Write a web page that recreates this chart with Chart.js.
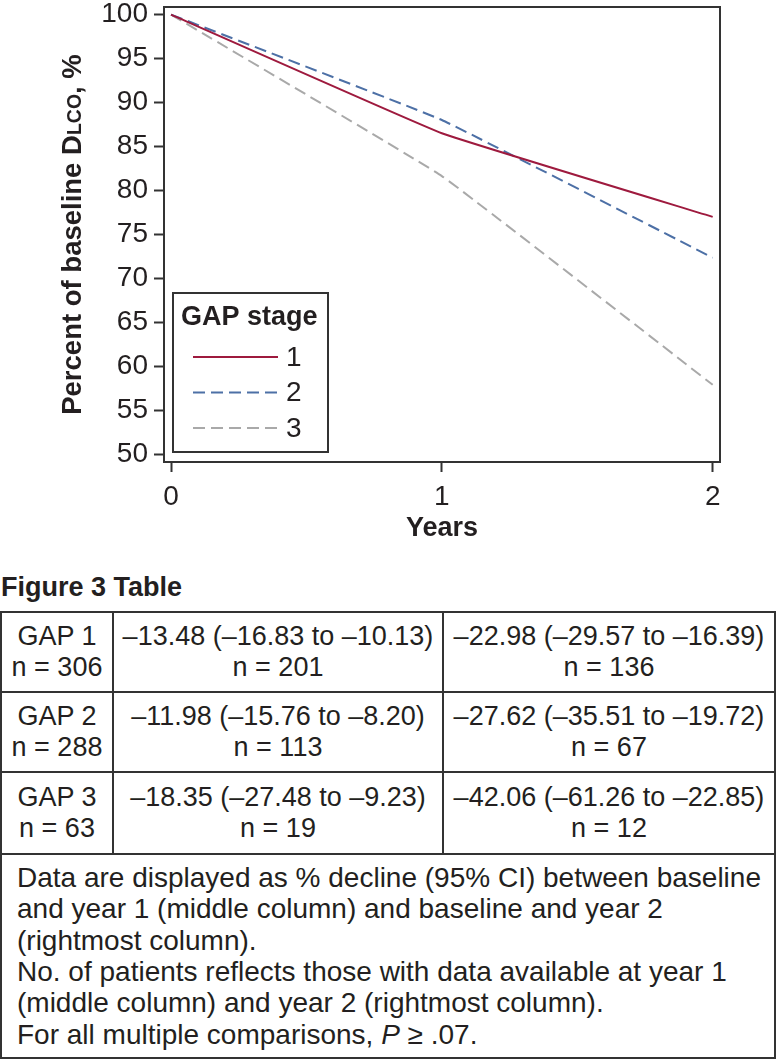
<!DOCTYPE html>
<html>
<head>
<meta charset="utf-8">
<script src="https://cdn.jsdelivr.net/npm/chart.js@4.4.1/dist/chart.umd.min.js"></script>
<style>
  html, body { margin: 0; padding: 0; background: #fff; }
  body { width: 776px; height: 1059px; position: relative; overflow: hidden;
         font-family: "Liberation Sans", Arial, Helvetica, sans-serif; color: #231f20; }
  #wrap { position: absolute; left: 0; top: 0; width: 776px; height: 560px; }
  #figTitle { position: absolute; left: 1px; top: 572px; font-weight: bold; font-size: 27px; line-height: 30px; }
  #tbl { position: absolute; left: 0; top: 611px; border-collapse: collapse; table-layout: fixed;
         width: 774px; font-size: 27px; line-height: 31px; }
  #tbl td { border: 2px solid #333; padding: 0; text-align: center; vertical-align: middle; white-space: nowrap; }
  #tbl td.note { text-align: left; padding-left: 15px; font-size: 28px; line-height: 31.3px; }
</style>
</head>
<body>
<div id="wrap"><canvas id="c" width="776" height="560"></canvas></div>
<div id="figTitle">Figure 3 Table</div>
<table id="tbl"></table>
<script>
// ---- data ----
const years = [0, 1, 2];
const gap1 = [100, 86.52, 77.02];
const gap2 = [100, 88.02, 72.38];
const gap3 = [100, 81.65, 57.94];
const seriesLabels = ['1', '2', '3'];
const yTicks = [50, 55, 60, 65, 70, 75, 80, 85, 90, 95, 100];
const xTicks = [0, 1, 2];

const tableGroups = ['GAP 1', 'GAP 2', 'GAP 3'];
const tableN = ['n = 306', 'n = 288', 'n = 63'];
const year1Decline = ['\u201313.48 (\u201316.83 to \u201310.13)', '\u201311.98 (\u201315.76 to \u20138.20)', '\u201318.35 (\u201327.48 to \u20139.23)'];
const year1N = ['n = 201', 'n = 113', 'n = 19'];
const year2Decline = ['\u201322.98 (\u201329.57 to \u201316.39)', '\u201327.62 (\u201335.51 to \u201319.72)', '\u201342.06 (\u201361.26 to \u201322.85)'];
const year2N = ['n = 136', 'n = 67', 'n = 12'];
const noteLines = [
  'Data are displayed as % decline (95% CI) between baseline',
  'and year 1 (middle column) and baseline and year 2',
  '(rightmost column).',
  'No. of patients reflects those with data available at year 1',
  '(middle column) and year 2 (rightmost column).',
  'For all multiple comparisons, <i>P</i> \u2265 .07.'
];

// ---- table ----
(function buildTable() {
  const t = document.getElementById('tbl');
  let html = '<colgroup><col style="width:112px"><col style="width:330px"><col style="width:332px"></colgroup>';
  const heights = [80, 80, 82];
  for (let i = 0; i < tableGroups.length; i++) {
    html += '<tr style="height:' + heights[i] + 'px">' +
      '<td>' + tableGroups[i] + '<br>' + tableN[i] + '</td>' +
      '<td>' + year1Decline[i] + '<br>' + year1N[i] + '</td>' +
      '<td>' + year2Decline[i] + '<br>' + year2N[i] + '</td></tr>';
  }
  html += '<tr style="height:204px"><td class="note" colspan="3">' + noteLines.join('<br>') + '</td></tr>';
  t.innerHTML = html;
})();

// ---- chart ----
const FONT = '"Liberation Sans", Arial, Helvetica, sans-serif';
const TEXT = '#231f20';
const FRAME = '#333333';
const colors = ['#9e1a3e', '#4d70a6', '#a9a9a9'];
const dashes = [[], [12, 6], [12, 6]];
const seriesValues = [gap1, gap2, gap3];

const datasets = seriesValues.map((vals, i) => ({
  label: seriesLabels[i],
  data: years.map((x, j) => ({ x: x, y: vals[j] })),
  borderColor: colors[i],
  borderWidth: 2,
  borderDash: dashes[i],
  pointRadius: 0,
  tension: 0.08,
  fill: false
}));

const framePlugin = {
  id: 'frame',
  afterDraw(chart) {
    const { ctx, chartArea: a } = chart;
    ctx.save();
    ctx.strokeStyle = FRAME;
    ctx.lineWidth = 2;
    ctx.strokeRect(a.left, a.top, a.right - a.left, a.bottom - a.top);
    ctx.restore();
  }
};

const yTitlePlugin = {
  id: 'ytitle',
  afterDraw(chart) {
    const { ctx, chartArea: a } = chart;
    const parts = [
      { t: 'Percent of baseline D', s: 27.5 },
      { t: 'LCO', s: 19.5 },
      { t: ', %', s: 27.5 }
    ];
    ctx.save();
    ctx.fillStyle = TEXT;
    let w = 0;
    parts.forEach(p => { ctx.font = 'bold ' + p.s + 'px ' + FONT; p.w = ctx.measureText(p.t).width; w += p.w; });
    ctx.translate(a.left - 83, (a.top + a.bottom) / 2);
    ctx.rotate(-Math.PI / 2);
    ctx.textBaseline = 'alphabetic';
    ctx.textAlign = 'left';
    let x = -w / 2;
    parts.forEach(p => { ctx.font = 'bold ' + p.s + 'px ' + FONT; ctx.fillText(p.t, x, 0); x += p.w; });
    ctx.restore();
  }
};

const legendPlugin = {
  id: 'boxlegend',
  afterDraw(chart) {
    const { ctx, chartArea: a } = chart;
    const bx = a.left + 9, by = a.top + 286, bw = 155, bh = 159;
    ctx.save();
    ctx.strokeStyle = FRAME;
    ctx.lineWidth = 2;
    ctx.strokeRect(bx, by, bw, bh);
    ctx.fillStyle = TEXT;
    ctx.font = 'bold 27px ' + FONT;
    ctx.textBaseline = 'middle';
    ctx.textAlign = 'left';
    ctx.fillText('GAP stage', bx + 8, by + 25);
    chart.data.datasets.forEach((ds, i) => {
      const y = by + 64 + i * 35.5;
      ctx.beginPath();
      ctx.strokeStyle = ds.borderColor;
      ctx.lineWidth = 2;
      ctx.setLineDash(ds.borderDash || []);
      ctx.moveTo(bx + 20, y);
      ctx.lineTo(bx + 105, y);
      ctx.stroke();
      ctx.setLineDash([]);
      ctx.fillStyle = TEXT;
      ctx.font = '28px ' + FONT;
      ctx.fillText(ds.label, bx + 113, y + 1);
    });
    ctx.restore();
  }
};

new Chart(document.getElementById('c'), {
  type: 'line',
  data: { datasets: datasets },
  options: {
    responsive: false,
    animation: false,
    devicePixelRatio: 1,
    layout: { padding: { top: 7, right: 56, bottom: 15, left: 0 } },
    plugins: { legend: { display: false }, tooltip: { enabled: false } },
    scales: {
      x: {
        type: 'linear',
        min: -0.026, max: 2.027,
        afterBuildTicks: s => { s.ticks = xTicks.map(v => ({ value: v })); },
        afterFit: s => { s.height = 83; s.paddingLeft = 0; s.paddingRight = 0; },
        grid: { display: true, drawOnChartArea: false, drawTicks: true, tickLength: 10, tickWidth: 2, tickColor: FRAME },
        border: { display: false },
        ticks: { font: { size: 28, family: FONT }, color: TEXT, padding: 8, maxRotation: 0 },
        title: { display: true, text: 'Years', font: { size: 27, weight: 'bold', family: FONT }, color: TEXT, padding: 0 }
      },
      y: {
        type: 'linear',
        min: 49.17, max: 100.86,
        afterBuildTicks: s => { s.ticks = yTicks.map(v => ({ value: v })); },
        afterFit: s => { s.width = 164; s.paddingTop = 0; s.paddingBottom = 0; },
        grid: { display: true, drawOnChartArea: false, drawTicks: true, tickLength: 10, tickWidth: 2, tickColor: FRAME },
        border: { display: false },
        ticks: { font: { size: 28, family: FONT }, color: TEXT, padding: 6 }
      }
    }
  },
  plugins: [framePlugin, yTitlePlugin, legendPlugin]
});
</script>
</body>
</html>
